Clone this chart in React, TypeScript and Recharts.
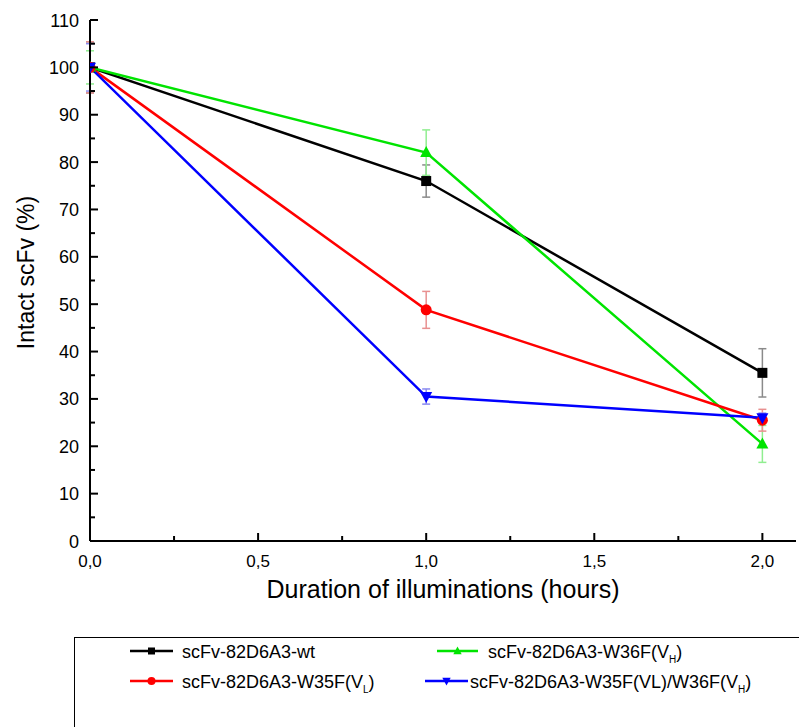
import React from 'react';
import { LineChart, Line, XAxis, YAxis, ErrorBar } from 'recharts';

const FONT = '"Liberation Sans", Arial, Helvetica, sans-serif';

// ---- data ----
const hours = [0, 1, 2];
const wt = [100, 76, 35.5];
const wtErr = [5.4, 3.4, 5.1];
const w36f = [100, 82, 20.5];
const w36fErr = [3.5, 4.8, 3.9];
const w35f = [100, 48.8, 25.5];
const w35fErr = [5.4, 3.9, 2.3];
const dbl = [100, 30.5, 26];
const dblErr = [5.0, 1.6, 1.0];

const xTicks = [0, 0.25, 0.5, 0.75, 1, 1.25, 1.5, 1.75, 2];
const yTicks = [0, 5, 10, 15, 20, 25, 30, 35, 40, 45, 50, 55, 60, 65, 70, 75, 80, 85, 90, 95, 100, 105, 110];

const data = hours.map((h, i) => ({
  h,
  wt: wt[i], wtErr: wtErr[i],
  w36f: w36f[i], w36fErr: w36fErr[i],
  w35f: w35f[i], w35fErr: w35fErr[i],
  dbl: dbl[i], dblErr: dblErr[i],
}));

type Kind = 'square' | 'circle' | 'up' | 'down';

const series = [
  { key: 'wt', err: 'wtErr', color: '#000000', errColor: '#8a8a8a', kind: 'square' as Kind },
  { key: 'w36f', err: 'w36fErr', color: '#00e400', errColor: '#90ee90', kind: 'up' as Kind },
  { key: 'w35f', err: 'w35fErr', color: '#ff0000', errColor: '#e89090', kind: 'circle' as Kind },
  { key: 'dbl', err: 'dblErr', color: '#0000ff', errColor: '#8a8af0', kind: 'down' as Kind },
];

const marker = (kind: Kind, cx: number, cy: number, color: string, s: number, key?: any) => {
  if (kind === 'square') return <rect key={key} x={cx - s / 2} y={cy - s / 2} width={s} height={s} fill={color} />;
  if (kind === 'circle') return <circle key={key} cx={cx} cy={cy} r={s / 2 + 0.5} fill={color} />;
  if (kind === 'up')
    return <polygon key={key} points={`${cx},${cy - s * 0.65} ${cx - s * 0.6},${cy + s * 0.45} ${cx + s * 0.6},${cy + s * 0.45}`} fill={color} />;
  return <polygon key={key} points={`${cx},${cy + s * 0.65} ${cx - s * 0.6},${cy - s * 0.45} ${cx + s * 0.6},${cy - s * 0.45}`} fill={color} />;
};

const XTick = (props: any) => {
  const { x, y, payload } = props;
  const v = payload.value as number;
  const major = Math.abs(v * 2 - Math.round(v * 2)) < 1e-6;
  return (
    <g>
      <line x1={x} y1={y} x2={x} y2={y - (major ? 8 : 5)} stroke="#000" strokeWidth={2} />
      {major && (
        <text x={x} y={y + 26} textAnchor="middle" fontSize={17} fontFamily={FONT} fill="#000">
          {v.toFixed(1).replace('.', ',')}
        </text>
      )}
    </g>
  );
};

const YTick = (props: any) => {
  const { x, y, payload } = props;
  const v = payload.value as number;
  const major = v % 10 === 0;
  return (
    <g>
      <line x1={x} y1={y} x2={x + (major ? 8 : 5)} y2={y} stroke="#000" strokeWidth={2} />
      {major && (
        <text x={x - 11} y={y + 6.5} textAnchor="end" fontSize={18} fontFamily={FONT} fill="#000">
          {v}
        </text>
      )}
    </g>
  );
};

const XLabel = (props: any) => {
  const vb = props.viewBox || { x: 90, y: 541, width: 706, height: 89 };
  return (
    <text x={vb.x + vb.width / 2} y={vb.y + 57} textAnchor="middle" fontSize={25} fontFamily={FONT} fill="#000">
      Duration of illuminations (hours)
    </text>
  );
};

const YLabel = (props: any) => {
  const vb = props.viewBox || { x: 0, y: 20, width: 90, height: 521 };
  const cx = vb.x + 34;
  const cy = vb.y + vb.height / 2 - 8;
  return (
    <text x={cx} y={cy} transform={`rotate(-90, ${cx}, ${cy})`} textAnchor="middle" fontSize={23} fontFamily={FONT} fill="#000">
      Intact scFv (%)
    </text>
  );
};

const legendItems = [
  { s: series[0], x1: 130, x2: 173, tx: 182, ty: 21, main: 'scFv-82D6A3-wt', sub: '' },
  { s: series[1], x1: 437, x2: 478, tx: 488, ty: 21, main: 'scFv-82D6A3-W36F(V', sub: 'H' },
  { s: series[2], x1: 130, x2: 173, tx: 182, ty: 51, main: 'scFv-82D6A3-W35F(V', sub: 'L' },
  { s: series[3], x1: 425, x2: 468, tx: 470, ty: 51, main: 'scFv-82D6A3-W35F(VL)/W36F(V', sub: 'H' },
];

const LegendBox = () => (
  <svg width={799} height={97} style={{ display: 'block' }}>
    <rect x={74.5} y={7.5} width={740} height={110} fill="none" stroke="#000" strokeWidth={1} />
    {legendItems.map((it, i) => (
      <g key={i}>
        <line x1={it.x1} y1={it.ty} x2={it.x2} y2={it.ty} stroke={it.s.color} strokeWidth={2.5} />
        {marker(it.s.kind, (it.x1 + it.x2) / 2, it.ty, it.s.color, 7)}
        <text x={it.tx} y={it.ty + 6.5} fontSize={18} fontFamily={FONT} fill="#000">
          {it.main}
          {it.sub ? (
            <>
              <tspan fontSize={10} dy={5}>{it.sub}</tspan>
              <tspan dy={-5}>)</tspan>
            </>
          ) : null}
        </text>
      </g>
    ))}
  </svg>
);

export default function App() {
  return (
    <div style={{ position: 'absolute', left: 0, top: 0, width: 799, height: 727, background: '#fff' }}>
      <LineChart width={799} height={630} data={data} margin={{ top: 20, right: 3, bottom: 0, left: 0 }}>
        <XAxis
          dataKey="h"
          type="number"
          domain={[0, 2.1]}
          ticks={xTicks}
          interval={0}
          tickSize={0}
          tickMargin={0}
          tickLine={false}
          tick={<XTick />}
          height={89}
          axisLine={{ stroke: '#000', strokeWidth: 2 }}
          label={<XLabel />}
          allowDataOverflow
        />
        <XAxis
          xAxisId="top"
          orientation="top"
          type="number"
          domain={[0, 2.1]}
          height={0}
          tick={false}
          tickLine={false}
          axisLine={{ stroke: '#000', strokeWidth: 2 }}
        />
        <YAxis
          type="number"
          domain={[0, 110]}
          ticks={yTicks}
          interval={0}
          tickSize={0}
          tickMargin={0}
          tickLine={false}
          tick={<YTick />}
          width={90}
          axisLine={{ stroke: '#000', strokeWidth: 2 }}
          label={<YLabel />}
          allowDataOverflow
        />
        <YAxis
          yAxisId="right"
          orientation="right"
          type="number"
          domain={[0, 110]}
          width={0}
          tick={false}
          tickLine={false}
          axisLine={{ stroke: '#000', strokeWidth: 2 }}
        />
        {series.map((s) => (
          <Line
            key={s.key}
            dataKey={s.key}
            stroke={s.color}
            strokeWidth={2.5}
            isAnimationActive={false}
            dot={(p: any) => marker(s.kind, p.cx, p.cy, s.color, 10, `${s.key}-${p.index}`)}
            activeDot={false}
          >
            <ErrorBar dataKey={s.err} direction="y" width={4} stroke={s.errColor} strokeWidth={1.5} />
          </Line>
        ))}
      </LineChart>
      <LegendBox />
    </div>
  );
}
